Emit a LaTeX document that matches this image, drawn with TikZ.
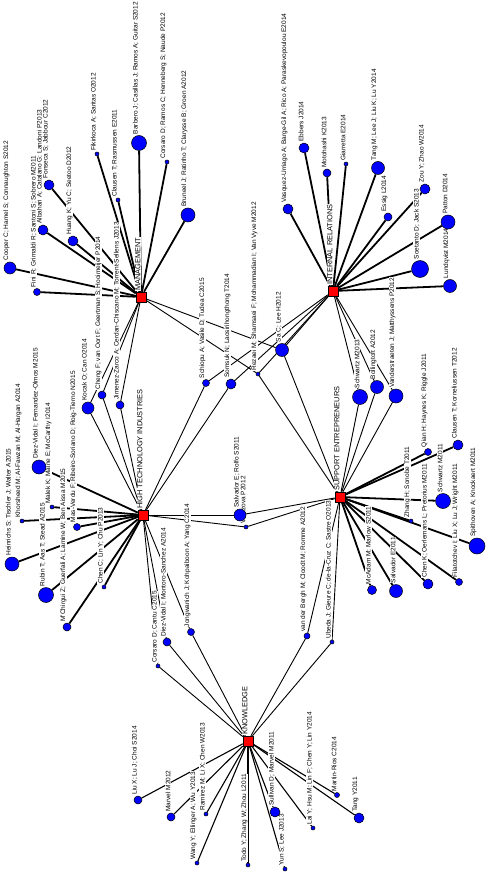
\documentclass[tikz,border=0pt]{standalone}
\usepackage{fontspec}
\setmainfont{Liberation Sans}
\pgfdeclarelayer{edges}
\pgfdeclarelayer{labels}
\pgfsetlayers{edges,labels,main}
\tikzset{
  leaf/.style={circle,draw=black,line width=0.5pt,fill=blue,inner sep=0pt,minimum size=#1},
  hub/.style={rectangle,draw=black,line width=0.5pt,fill=red,inner sep=0pt,minimum size=10pt},
  lab/.style={font=\fontsize{6.5}{7}\selectfont,rotate=90,anchor=south west,fill=white,inner sep=0.4pt},
  hublab/.style={font=\fontsize{7.4}{8}\selectfont,rotate=90,anchor=south west,fill=white,inner sep=0.4pt},
  ethick/.style={line width=1.8pt},
  ethin/.style={line width=0.9pt},
  emid/.style={line width=1.1pt}
}
\newcommand\leafnode[5]{%
  \node[leaf=#4] (#1) at (#2,#3) {};
  \begin{pgfonlayer}{labels}\node[lab] at ([yshift=0.6pt]#1.north) {#5};\end{pgfonlayer}}
\newcommand\hubnode[4]{%
  \node[hub] (#1) at (#2,#3) {};
  \begin{pgfonlayer}{labels}\node[hublab] at ([yshift=0.6pt]#1.north) {#4};\end{pgfonlayer}}
\begin{document}
\begin{tikzpicture}[x=1pt,y=-1pt]
\begin{pgfonlayer}{edges}
\path[fill=white] (0,0) rectangle (488,874);
\end{pgfonlayer}
\path[use as bounding box] (0,0) rectangle (488,874);
% hubs
\hubnode{M}{141}{297}{MANAGEMENT}
\hubnode{I}{333}{291}{INTERNAL RELATIONS}
\hubnode{H}{143}{515}{HIGH TECHNOLOGY INDUSTRIES}
\hubnode{S}{340}{497}{SUPPORT ENTREPRENEURS}
\hubnode{K}{248}{741}{KNOWLEDGE}
% management
\leafnode{albahari}{43}{230}{10pt}{Albahari A; Catalano G; Landoni P2013}
\leafnode{cooper}{10}{268}{12pt}{Cooper C; Hamel S; Connaughton S2012}
\leafnode{fini}{37}{292}{7pt}{Fini R; Grimaldi R; Santoni S; Sobrero M2011}
\leafnode{fonseca}{49}{185}{10pt}{Fonseca S; Jabbour C2012}
\leafnode{huang}{73}{241}{10pt}{Huang K; Yu C; Seetoo D2012}
\leafnode{fikir}{97}{154}{4pt}{Fikirkoca A; Saritas O2012}
\leafnode{clausenr}{118}{200}{4pt}{Clausen T; Rasmussen E2011}
\leafnode{barbero}{139}{143}{15pt}{Barbero J; Casillas J; Ramos A; Guitar S2012}
\leafnode{corsaror}{167}{162}{4pt}{Corsaro D; Ramos C; Henneberg S; Naude P2012}
\leafnode{bruneel}{188}{215}{14pt}{Bruneel J; Ratinho T; Clarysse B; Groen A2012}
% internal relations
\leafnode{vasquez}{288}{209}{10pt}{Vasquez-Urriago A; Barge-Gil A; Rico A; Paraskevopoulou E2014}
\leafnode{ebbers}{304}{148}{10pt}{Ebbers J2014}
\leafnode{motohashi}{327}{173}{8pt}{Motohashi K2013}
\leafnode{giarretta}{346}{164}{4pt}{Giarretta E2014}
\leafnode{tangm}{378}{168}{13pt}{Tang M; Lee J; Liu K; Lu Y2014}
\leafnode{essig}{388}{217}{8pt}{Essig L2014}
\leafnode{zou}{425}{189}{10pt}{Zou Y; Zhao W2014}
\leafnode{patton}{448}{222}{14pt}{Patton D2014}
\leafnode{soetanto}{420}{269}{17pt}{Soetanto D; Jack S2013}
\leafnode{lundqvist}{450}{286}{13pt}{Lundqvist M2014}
% bridges
\leafnode{schiopu}{206}{383}{7pt}{Schiopu A; Vasile D; Tudea C2015}
\leafnode{somsuk}{231}{384}{10pt}{Somsuk N; Laosirihongthong T2014}
\leafnode{rezaei}{258}{374}{4pt}{Rezaei M; Shamsaei F; Mohammadian I; Van Vyve M2012}
\leafnode{sac}{282}{350}{13pt}{Sa C; Lee H2012}
\leafnode{schwartz13}{360}{397}{15pt}{Schwartz M2013}
\leafnode{bolling}{377}{387}{13pt}{Bollingtoft A2012}
\leafnode{vanderst}{396}{396}{14pt}{Vanderstraeten J; Matthyssens P2012}
% support
\leafnode{qian}{428}{452}{7pt}{Qian H; Haynes K; Riggle J2011}
\leafnode{clausenk}{458}{445}{10pt}{Clausen T; Korneliussen T2012}
\leafnode{zhang}{411}{521}{4pt}{Zhang H; Sonobe T2011}
\leafnode{schwartz11}{443}{501}{15pt}{Schwartz M2011}
\leafnode{chenk}{428}{584}{10pt}{Chen K; Oerlemans L; Pretorius M2011}
\leafnode{filat}{459}{582}{7pt}{Filatotchev I; Liu X; Lu J; Wright M2011}
\leafnode{spith}{477}{546}{16pt}{Spithoven A; Knockaert M2011}
\leafnode{salv11}{396}{591}{13pt}{Salvador E2011}
\leafnode{mcadam}{372}{590}{9pt}{McAdam M; Marlow S2011}
\leafnode{ubeda}{332}{642}{4pt}{Ubeda J; Gieure C; de-la-Cruz C; Sastre O2013}
\leafnode{vdbergh}{307}{636}{6pt}{van der Bergh M; Cloodt M; Romme A2012}
\leafnode{zova}{246}{527}{4pt}{Vatazova P2012}
\leafnode{salvrolfo}{240}{515}{12pt}{Salvador E; Rolfo S2011}
% high tech
\leafnode{heinrichs}{12}{564}{14pt}{Heinrichs S; Tischler J; Walter A2015}
\leafnode{khorsheed}{22}{521}{4pt}{Khorsheed M; Al-Fawzan M; Al-Hargan A2014}
\leafnode{diezfo}{39}{467}{14pt}{Diez-Vidal I; Fernandez-Olmos M2015}
\leafnode{malek}{52}{507}{4pt}{Malek K; Maine E; McCarthy I2014}
\leafnode{masverdu}{77}{527}{7pt}{Mas-Verdu F; Ribeiro-Soriano D; Roig-Tierno N2015}
\leafnode{rubin}{46}{595}{15pt}{Rubin T; Aas T; Stead A2015}
\leafnode{mchirgui}{67}{627}{8pt}{M'Chirgui Z; Guerfali A; Lamine W; Ben Aissa M2015}
\leafnode{chenc}{104}{587}{4pt}{Chen C; Lin Y; Chu P2013}
\leafnode{corsaroc}{158}{666}{4pt}{Corsaro D; Cantu C2015}
\leafnode{diezms}{167}{642}{8pt}{Diez-Vidal I; Montoro-Sanchez A2014}
\leafnode{jongw}{191}{632}{7pt}{Jongwanich J; Kohpaiboon A; Yang C2014}
\leafnode{kocak}{88}{408}{12pt}{Kocak O; Can O2014}
\leafnode{cheng}{102}{395}{8pt}{Cheng F; van Oort F; Geertman S; Hooimeijer P2014}
\leafnode{jimenez}{120}{405}{8pt}{Jimenez-Zarco A; Cerdan-Chiscano M; Torrent-Sellens J2013}
% knowledge
\leafnode{liux}{138}{800}{8pt}{Liu X; Lu J; Choi S2014}
\leafnode{marvel12}{171}{817}{8pt}{Marvel M2012}
\leafnode{wangy}{197}{863}{4pt}{Wang Y; Ellinger A; Wu Y2013}
\leafnode{ramirez}{206}{814}{4pt}{Ramirez M; Li X; Chen W2013}
\leafnode{todo}{248}{865}{4pt}{Todo Y; Zhang W; Zhou L2011}
\leafnode{yun}{285}{869}{4pt}{Yun S; Lee J2013}
\leafnode{sullivan}{275}{812}{10pt}{Sullivan D; Marvel M2011}
\leafnode{lai}{313}{828}{4pt}{Lai Y; Hsu M; Lin F; Chen Y; Lin Y2014}
\leafnode{martin}{337}{795}{5pt}{Martin-Rios C2014}
\leafnode{tangy}{359}{818}{10pt}{Tang Y2011}
% edges
\begin{pgfonlayer}{edges}
\foreach \n in {albahari,cooper,fini,fonseca,huang,fikir,clausenr,barbero,corsaror,bruneel} \draw[ethick] (M) -- (\n);
\foreach \n in {kocak,cheng,jimenez,sac,rezaei} \draw[ethin] (M) -- (\n);
\foreach \n in {vasquez,ebbers,motohashi,giarretta,tangm,essig,zou,patton,soetanto,lundqvist} \draw[ethick] (I) -- (\n);
\foreach \n in {schwartz13,bolling,vanderst,sac,schiopu,somsuk,rezaei} \draw[ethin] (I) -- (\n);
\foreach \n in {heinrichs,khorsheed,diezfo,malek,masverdu,rubin,mchirgui,chenc} \draw[ethick] (H) -- (\n);
\foreach \n in {kocak,cheng,jimenez,schiopu,somsuk,salvrolfo,zova,corsaroc,diezms,jongw} \draw[ethin] (H) -- (\n);
\foreach \n in {qian,clausenk,zhang,schwartz11,chenk,filat,spith,salv11,mcadam} \draw[ethick] (S) -- (\n);
\foreach \n in {schwartz13,bolling,vanderst,sac,rezaei,salvrolfo,zova,ubeda,vdbergh} \draw[ethin] (S) -- (\n);
\foreach \n in {liux,marvel12,wangy,ramirez,todo,yun,sullivan,lai,martin,tangy} \draw[emid] (K) -- (\n);
\foreach \n in {corsaroc,diezms,jongw,ubeda,vdbergh} \draw[ethin] (K) -- (\n);
\end{pgfonlayer}
\end{tikzpicture}
\end{document}
